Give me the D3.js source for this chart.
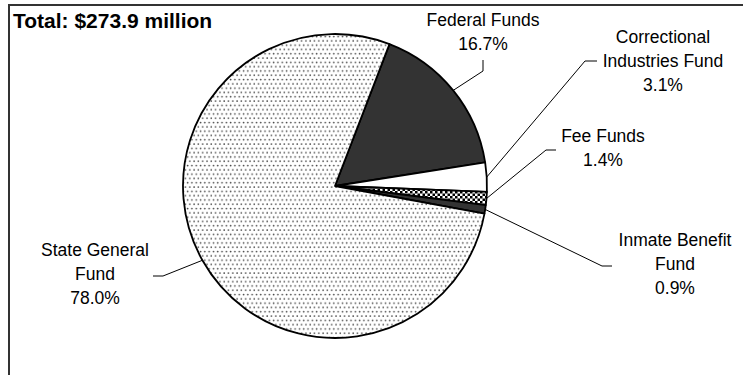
<!DOCTYPE html>
<html>
<head>
<meta charset="utf-8">
<script src="https://cdn.jsdelivr.net/npm/d3@7"></script>
<style>
  html, body { margin: 0; padding: 0; background: #fff; }
  svg { display: block; font-family: "Liberation Sans", Arial, sans-serif; }
</style>
</head>
<body>
<svg id="chart" width="743" height="375"></svg>
<script>
// Funding sources and their share of the total (percent)
const categories = ["Federal Funds", "Correctional Industries Fund", "Fee Funds", "Inmate Benefit Fund", "State General Fund"];
const shares = [16.7, 3.1, 1.4, 0.9, 78.0];
const labelLines = [["Federal Funds"], ["Correctional", "Industries Fund"], ["Fee Funds"], ["Inmate Benefit", "Fund"], ["State General", "Fund"]];
const fills = ["#333333", "#ffffff", "url(#checker)", "#333333", "url(#dots)"];
const totalLabel = "Total: $273.9 million";

// Label placement: text centre x, first baseline, and the leader's start and elbow
const labelLayout = [
  { x: 483, y: 26, lead: [[483, 60], [483, 71]] },
  { x: 663, y: 43, lead: [[597, 61], [585, 61]] },
  { x: 603, y: 142, lead: [[556, 150], [546, 150]] },
  { x: 675, y: 246, lead: [[612, 266], [602, 266]] },
  { x: 95, y: 256, lead: [[153, 276], [163, 276]] }
];

const svg = d3.select("#chart");
const defs = svg.append("defs");

// fine staggered stipple used for the general fund
const dots = defs.append("pattern").attr("id", "dots")
  .attr("patternUnits", "userSpaceOnUse").attr("width", 4.3).attr("height", 8.6);
dots.append("rect").attr("width", 4.3).attr("height", 8.6).attr("fill", "#fff");
dots.append("circle").attr("cx", 1).attr("cy", 1).attr("r", 0.85).attr("fill", "#444");
dots.append("circle").attr("cx", 3.15).attr("cy", 5.3).attr("r", 0.85).attr("fill", "#444");

// coarse checker used for fee funds
const checker = defs.append("pattern").attr("id", "checker")
  .attr("patternUnits", "userSpaceOnUse").attr("width", 5).attr("height", 5);
checker.append("rect").attr("width", 5).attr("height", 5).attr("fill", "#fff");
checker.append("rect").attr("x", 0).attr("y", 0).attr("width", 2.5).attr("height", 2.5).attr("fill", "#000");
checker.append("rect").attr("x", 2.5).attr("y", 2.5).attr("width", 2.5).attr("height", 2.5).attr("fill", "#000");

// frame
svg.append("path")
  .attr("d", "M9,375 V5 H743")
  .attr("fill", "none").attr("stroke", "#333").attr("stroke-width", 2);

// title
svg.append("text")
  .attr("x", 13).attr("y", 28)
  .attr("font-size", 21).attr("font-weight", "bold")
  .text(totalLabel);

const cx = 335, cy = 186, r = 152;
const rotation = 21 * Math.PI / 180;

const pie = d3.pie().sort(null)
  .startAngle(rotation).endAngle(rotation + 2 * Math.PI);
const arcs = pie(shares);
const arc = d3.arc().innerRadius(0).outerRadius(r);

const g = svg.append("g").attr("transform", `translate(${cx},${cy})`);
g.selectAll("path.slice").data(arcs).join("path")
  .attr("class", "slice")
  .attr("d", arc)
  .attr("fill", (d, i) => fills[i])
  .attr("stroke", "#000")
  .attr("stroke-width", 1.8)
  .attr("stroke-linejoin", "round");

// leader lines from each label to the middle of its slice edge
const line = d3.line();
arcs.forEach((d, i) => {
  const mid = (d.startAngle + d.endAngle) / 2;
  const edge = [cx + r * Math.sin(mid), cy - r * Math.cos(mid)];
  const pts = labelLayout[i].lead.concat([edge]);
  svg.append("path")
    .attr("d", line(pts))
    .attr("fill", "none").attr("stroke", "#000").attr("stroke-width", 1);
});

// labels
categories.forEach((c, i) => {
  const L = labelLayout[i];
  const lines = labelLines[i].concat([shares[i].toFixed(1) + "%"]);
  const t = svg.append("text")
    .attr("x", L.x).attr("y", L.y)
    .attr("text-anchor", "middle")
    .attr("font-size", 17.5);
  lines.forEach((s, k) => {
    t.append("tspan").attr("x", L.x).attr("dy", k === 0 ? 0 : 24).text(s);
  });
});
</script>
</body>
</html>
